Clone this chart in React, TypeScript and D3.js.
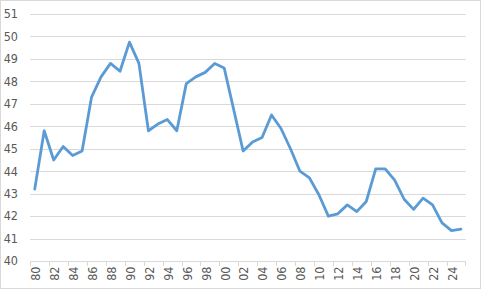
import React from "react";
import * as d3 from "d3";

const years: number[] = d3.range(1980, 2026);
const values: number[] = [
  43.2, 45.8, 44.5, 45.1, 44.7, 44.9, 47.3, 48.2, 48.8, 48.45,
  49.75, 48.8, 45.8, 46.1, 46.3, 45.8, 47.9, 48.2, 48.4, 48.8,
  48.6, 46.75, 44.9, 45.3, 45.5, 46.5, 45.9, 45.0, 44.0, 43.7,
  42.95, 42.0, 42.1, 42.5, 42.2, 42.65, 44.1, 44.1, 43.6, 42.75,
  42.3, 42.8, 42.5, 41.7, 41.35, 41.42,
];
const yTicks: number[] = d3.range(40, 52);

const W = 481;
const H = 289;
const FONT = "'Liberation Sans Narrow', 'DejaVu Sans Condensed', 'Liberation Sans', sans-serif";
const TEXT = "#595959";
const GRID = "#d9d9d9";

export default function App() {
  const x = d3.scaleBand<number>().domain(years).range([30, 465.7]).padding(0);
  const y = d3.scaleLinear().domain([40, 51]).range([261, 14]);
  const bw = x.bandwidth();
  const cx = (yr: number) => (x(yr) as number) + bw / 2;
  const line = d3
    .line<number>()
    .x((_, i) => cx(years[i]))
    .y((d) => y(d));

  const tickYears = years.filter((_, i) => i % 2 === 0);

  return (
    <svg
      width={W}
      height={H}
      style={{ position: "absolute", left: 0, top: 0, background: "#fff" }}
    >
      <rect x={0.5} y={0.5} width={W - 1} height={H - 1} fill="#fff" stroke={GRID} />
      {yTicks.map((t) => (
        <g key={t}>
          {t > 40 && (
            <line x1={30} x2={465.7} y1={Math.round(y(t)) + 0.5} y2={Math.round(y(t)) + 0.5} stroke={GRID} />
          )}
          <text
            x={18}
            y={y(t)}
            dy="0.35em"
            textAnchor="end"
            fontFamily={FONT}
            fontSize={12.5}
            fill={TEXT}
          >
            {t}
          </text>
        </g>
      ))}
      <line x1={30} x2={465.7} y1={261.5} y2={261.5} stroke={GRID} />
      {tickYears.map((yr) => (
        <line
          key={"t" + yr}
          x1={Math.round(x(yr) as number) + 0.5}
          x2={Math.round(x(yr) as number) + 0.5}
          y1={261}
          y2={266}
          stroke={GRID}
        />
      ))}
      <line x1={465.5} x2={465.5} y1={261} y2={266} stroke={GRID} />
      {tickYears.map((yr) => (
        <text
          key={"l" + yr}
          transform={`translate(${cx(yr) + 1},${266.5}) rotate(-90)`}
          dy="0.35em"
          textAnchor="end"
          fontFamily={FONT}
          fontSize={12.5}
          fill={TEXT}
        >
          {String(yr % 100).padStart(2, "0")}
        </text>
      ))}
      <path
        d={line(values) || ""}
        fill="none"
        stroke="#5b9bd5"
        strokeWidth={2.8}
        strokeLinejoin="round"
        strokeLinecap="round"
      />
    </svg>
  );
}
